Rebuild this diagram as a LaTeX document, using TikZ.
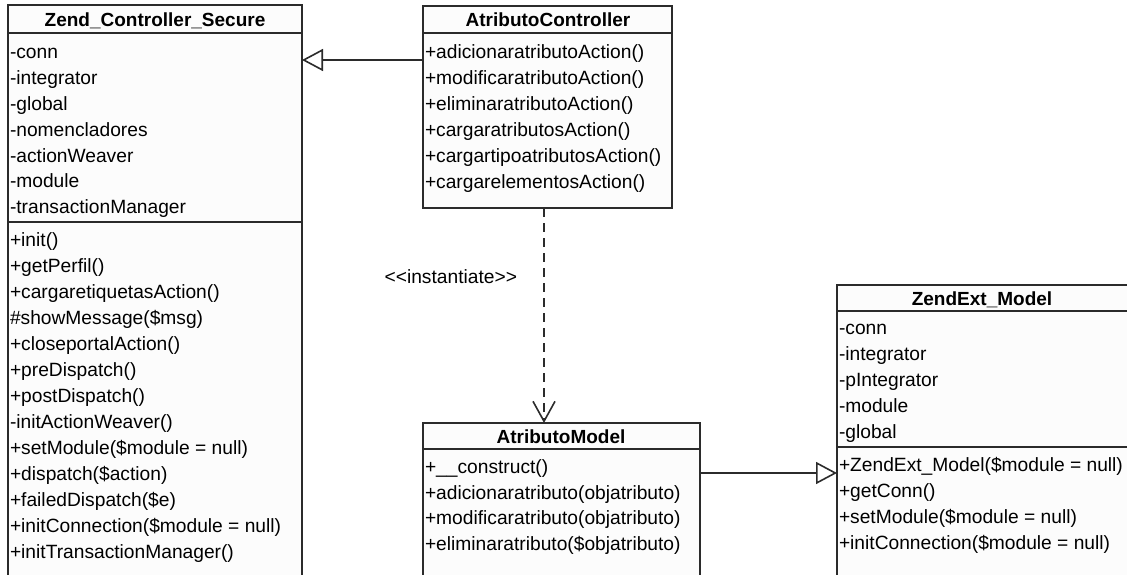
\documentclass[tikz,border=0pt]{standalone}
\usepackage{fontspec}
\setmainfont{Liberation Sans}
\usetikzlibrary{arrows.meta}
\definecolor{linec}{HTML}{2B2B2B}
\definecolor{boxfill}{HTML}{FCFCFC}

\begin{document}
\begin{tikzpicture}[x=1pt,y=-1pt,
  every node/.style={inner sep=0pt, outer sep=0pt},
  box/.style={draw=linec, line width=1.6pt, fill=boxfill, anchor=north west},
  divider/.style={draw=linec, line width=1.6pt},
  cname/.style={font=\fontsize{19}{21}\selectfont\bfseries, text height=13.8pt, text depth=0pt, anchor=center},
  member/.style={font=\fontsize{19.2}{21}\selectfont, text height=13.8pt, text depth=0pt, anchor=west},
  conn/.style={draw=linec, line width=1.6pt},
  inherit/.style={conn, -{Triangle[length=21pt, width=22pt, fill=white]}},
  depend/.style={conn, dash pattern=on 9pt off 6pt, -{Straight Barb[length=20pt, width=22pt]}}
]
\useasboundingbox (0,0) rectangle (1127,575);
\clip (0,0) rectangle (1127,575);

% Zend_Controller_Secure
\node[box, minimum width=294pt, minimum height=620pt] (zcs) at (8,5) {};
\node[cname] (zcsname) at (155,20) {Zend\_Controller\_Secure};
\draw[divider] (zcs.west |- 0,33) -- (zcs.east |- 0,33);
\draw[divider] (zcs.west |- 0,222) -- (zcs.east |- 0,222);
\foreach \t [count=\i from 0] in {-conn, -integrator, -global, -nomencladores,
  -actionWeaver, -module, -transactionManager}
  \node[member] (zcsa\i) at (10,{52+25.8*\i}) {\t};
\foreach \t [count=\i from 0] in {+init(), +getPerfil(), +cargaretiquetasAction(),
  \#showMessage(\$msg), +closeportalAction(), +preDispatch(), +postDispatch(),
  -initActionWeaver(), +setModule(\$module = null), +dispatch(\$action),
  +failedDispatch(\$e), +initConnection(\$module = null), +initTransactionManager()}
  \node[member] (zcsm\i) at (10,{240+26*\i}) {\t};

% AtributoController
\node[box, minimum width=249pt, minimum height=202pt] (ac) at (423,6) {};
\node[cname] (acname) at (548,20) {AtributoController};
\draw[divider] (ac.west |- 0,33) -- (ac.east |- 0,33);
\foreach \t [count=\i from 0] in {+adicionaratributoAction(), +modificaratributoAction(),
  +eliminaratributoAction(), +cargaratributosAction(), +cargartipoatributosAction(),
  +cargarelementosAction()}
  \node[member] (aca\i) at (425,{52+26*\i}) {\t};

% AtributoModel
\node[box, minimum width=277pt, minimum height=200pt] (am) at (423,423) {};
\node[cname] (amname) at (561,437) {AtributoModel};
\draw[divider] (am.west |- 0,449) -- (am.east |- 0,449);
\foreach \t [count=\i from 0] in {+\_\_construct(), +adicionaratributo(objatributo),
  +modificaratributo(objatributo), +eliminaratributo(\$objatributo)}
  \node[member] (amm\i) at (425,{467+25.5*\i}) {\t};

% ZendExt_Model
\node[box, minimum width=292pt, minimum height=330pt] (zem) at (837,285) {};
\node[cname] (zemname) at (982,299) {ZendExt\_Model};
\draw[divider] (zem.west |- 0,311) -- (zem.east |- 0,311);
\draw[divider] (zem.west |- 0,447) -- (zem.east |- 0,447);
\foreach \t [count=\i from 0] in {-conn, -integrator, -pIntegrator, -module, -global}
  \node[member] (zema\i) at (839,{328+26*\i}) {\t};
\foreach \t [count=\i from 0] in {+ZendExt\_Model(\$module = null), +getConn(),
  +setModule(\$module = null), +initConnection(\$module = null)}
  \node[member] (zemm\i) at (839,{465+25.7*\i}) {\t};

% relations
\draw[inherit] (ac.west |- 0,60) -- (zcs.east |- 0,60);
\coordinate (dline) at (544,0);
\draw[depend] (ac.south -| dline) -- (am.north -| dline)
  node[pos=0.32, left=27pt, member, anchor=east] (inst) {<\kern0pt<instantiate>\kern0pt>};
\draw[inherit] (am.east |- 0,473) -- (zem.west |- 0,473);
\end{tikzpicture}
\end{document}
